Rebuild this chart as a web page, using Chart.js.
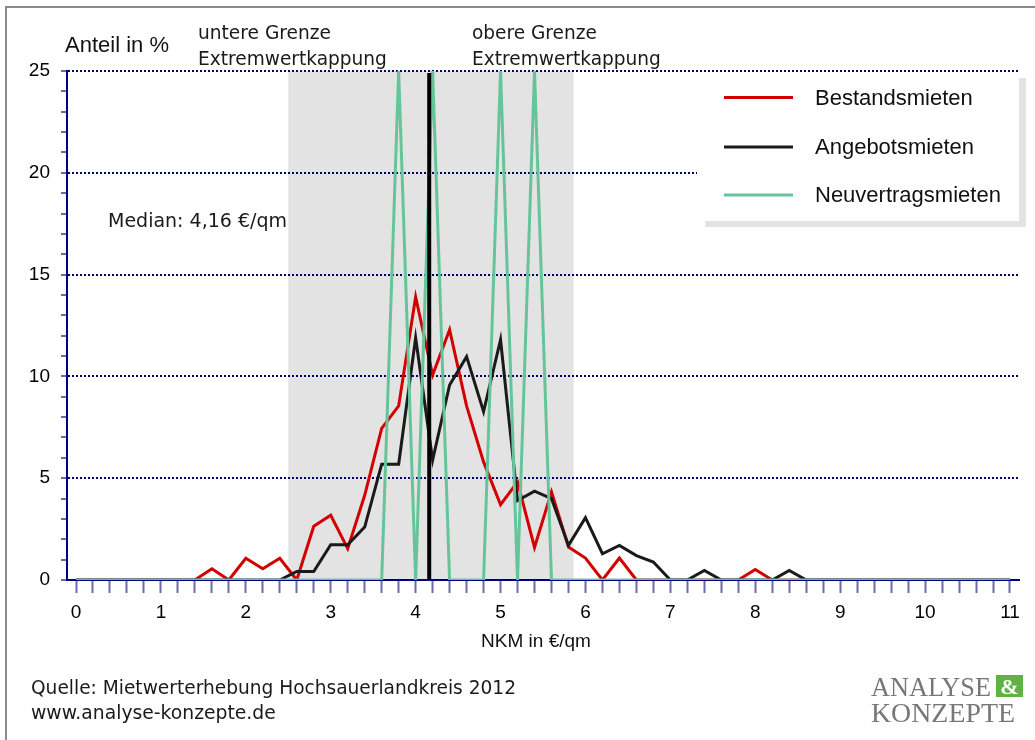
<!DOCTYPE html>
<html><head><meta charset="utf-8">
<script src="https://cdn.jsdelivr.net/npm/chart.js@4/dist/chart.umd.min.js"></script>
<style>html,body{margin:0;padding:0;background:#fff;overflow:hidden}canvas{display:block}</style>
</head><body>
<canvas id="c" width="1035" height="740"></canvas>
<script>
// ---- data ----
const nkm = [0,0.2,0.4,0.6,0.8, 1,1.2,1.4,1.6,1.8, 2,2.2,2.4,2.6,2.8, 3,3.2,3.4,3.6,3.8,
             4,4.2,4.4,4.6,4.8, 5,5.2,5.4,5.6,5.8, 6,6.2,6.4,6.6,6.8, 7,7.2,7.4,7.6,7.8,
             8,8.2,8.4,8.6,8.8, 9,9.2,9.4,9.6,9.8, 10,10.2,10.4,10.6,10.8, 11];
const bestandsmieten = [0,0,0,0,0, 0,0,0,0.55,0, 1.07,0.55,1.07,0,2.64, 3.18,1.54,4.16,7.45,8.55,
                        13.9,10.07,12.29,8.55,5.8, 3.7,4.82,1.6,4.33,1.62, 1.08,0,1.08,0,0, 0,0,0,0,0,
                        0.52,0,0,0,0, 0,0,0,0,0, 0,0,0,0,0, 0];
const angebotsmieten = [0,0,0,0,0, 0,0,0,0,0, 0,0,0,0.42,0.42, 1.73,1.73,2.6,5.69,5.69,
                        11.9,5.89,9.58,10.97,8.27, 11.8,3.9,4.36,4.0,1.7, 3.06,1.29,1.7,1.2,0.88, 0,0,0.47,0,0,
                        0,0,0.47,0,0, 0,0,0,0,0, 0,0,0,0,0, 0];
const neuvertragsmieten = [0,0,0,0,0, 0,0,0,0,0, 0,0,0,0,0, 0,0,0,0,25,
                           0,25,0,0,0, 25,0,25,0,0, 0,0,0,0,0, 0,0,0,0,0,
                           0,0,0,0,0, 0,0,0,0,0, 0,0,0,0,0, 0];
const seriesNames = ['Bestandsmieten','Angebotsmieten','Neuvertragsmieten'];
const seriesColors = ['#d40000','#1a1a1a','#66c49a'];
const yTickValues = [0,1,2,3,4,5,6,7,8,9,10,11,12,13,14,15,16,17,18,19,20,21,22,23,24,25];
const median = 4.16;
const medianTop = 24.9;
const lowerCap = 2.5;
const upperCap = 5.86;

const toPts = arr => arr.map((v,i) => ({x: nkm[i], y: v}));
const SANS = '"Liberation Sans", Arial, sans-serif';
const TAHO = '"DejaVu Sans", Verdana, sans-serif';
const SERIF = '"Liberation Serif", "Times New Roman", serif';

function fitText(ctx, text, x, yBase, family, width, color){
  ctx.font = '100px ' + family;
  const w = ctx.measureText(text).width;
  ctx.font = (100*width/w).toFixed(2) + 'px ' + family;
  ctx.fillStyle = color; ctx.textAlign = 'left'; ctx.textBaseline = 'alphabetic';
  ctx.fillText(text, x, yBase);
}

const deco = {
  id: 'deco',
  beforeDraw(chart){
    const {ctx, chartArea: a, scales: {x}} = chart;
    ctx.save();
    ctx.fillStyle = '#fff'; ctx.fillRect(0,0,chart.width,chart.height);
    ctx.fillStyle = '#8a8a8a'; ctx.fillRect(5,6,2,734); ctx.fillRect(5,6,1030,2);
    const x1 = x.getPixelForValue(lowerCap), x2 = x.getPixelForValue(upperCap);
    ctx.fillStyle = '#e3e3e3'; ctx.fillRect(x1, a.top, x2-x1, a.bottom-a.top);
    ctx.restore();
  },
  afterDraw(chart){
    const {ctx} = chart;
    ctx.save();
    // axis titles
    ctx.font = '22px ' + SANS; ctx.fillStyle = '#111'; ctx.textAlign='left'; ctx.textBaseline='alphabetic';
    ctx.fillText('Anteil in %', 65, 52);
    ctx.font = '19px ' + SANS; ctx.textAlign='center';
    ctx.fillText('NKM in €/qm', 536, 647);
    // annotations
    fitText(ctx, 'untere Grenze', 198, 39, TAHO, 133, '#1a1a1a');
    fitText(ctx, 'Extremwertkappung', 198, 65, TAHO, 189, '#1a1a1a');
    fitText(ctx, 'obere Grenze', 472, 39, TAHO, 125, '#1a1a1a');
    fitText(ctx, 'Extremwertkappung', 472, 65, TAHO, 189, '#1a1a1a');
    fitText(ctx, 'Median: 4,16 €/qm', 108, 227, TAHO, 179, '#1a1a1a');
    fitText(ctx, 'Quelle: Mietwerterhebung Hochsauerlandkreis 2012', 31, 694, TAHO, 485, '#1a1a1a');
    fitText(ctx, 'www.analyse-konzepte.de', 31, 719, TAHO, 245, '#1a1a1a');
    // legend
    ctx.fillStyle = '#e3e3e3'; ctx.fillRect(705, 78, 321, 149);
    ctx.fillStyle = '#fff'; ctx.fillRect(697, 72, 322, 149);
    const ly = [97.5, 147, 195];
    seriesNames.forEach((n,i) => {
      ctx.strokeStyle = seriesColors[i]; ctx.lineWidth = 3;
      ctx.beginPath(); ctx.moveTo(724, ly[i]); ctx.lineTo(793, ly[i]); ctx.stroke();
      ctx.font = '22px ' + SANS; ctx.fillStyle = '#111'; ctx.textAlign='left'; ctx.textBaseline='middle';
      ctx.fillText(n, 815, ly[i]+1);
    });
    // logo
    fitText(ctx, 'ANALYSE', 871, 696, SERIF, 120, '#777');
    fitText(ctx, 'KONZEPTE', 871, 722, SERIF, 144, '#777');
    ctx.fillStyle = '#5fb344'; ctx.fillRect(996, 675, 27, 22);
    ctx.font = 'bold 22px ' + SERIF; ctx.fillStyle = '#fff'; ctx.textAlign='center'; ctx.textBaseline='alphabetic';
    ctx.fillText('&', 1009.5, 694);
    ctx.restore();
  }
};

const lineDs = (label, data, color, order) => ({
  label, data: toPts(data), borderColor: color, backgroundColor: color,
  borderWidth: 3, pointRadius: 0, tension: 0, fill: false, order
});

new Chart(document.getElementById('c'), {
  type: 'line',
  data: {
    datasets: [
      {label: 'Median', data: [{x: median, y: 0}, {x: median, y: medianTop}], borderColor: '#000',
       borderWidth: 4, pointRadius: 0, fill: false, order: 0},
      lineDs(seriesNames[2], neuvertragsmieten, seriesColors[2], 1),
      lineDs(seriesNames[1], angebotsmieten, seriesColors[1], 2),
      lineDs(seriesNames[0], bestandsmieten, seriesColors[0], 3)
    ]
  },
  options: {
    responsive: false, animation: false, devicePixelRatio: 1,
    layout: {padding: {top: 71, right: 16, left: 0, bottom: 0}},
    plugins: {legend: {display: false}, tooltip: {enabled: false}},
    scales: {
      x: {
        type: 'linear', min: -0.106, max: 11.106,
        afterBuildTicks: s => { s.ticks = nkm.map(v => ({value: v})); },
        afterFit: s => { s.height = 160; },
        ticks: {
          autoSkip: false, maxRotation: 0, padding: 8, color: '#000',
          font: {family: SANS, size: 19},
          callback: v => Math.abs(v - Math.round(v)) < 1e-6 ? String(Math.round(v)) : ''
        },
        grid: {drawOnChartArea: false, drawTicks: true, tickLength: 13, tickColor: '#6b6bab', tickWidth: 2},
        border: {color: '#000080', width: 2}
      },
      y: {
        type: 'linear', min: 0, max: 25,
        afterBuildTicks: s => { s.ticks = yTickValues.map(v => ({value: v})); },
        afterFit: s => { s.width = 67; },
        ticks: {
          autoSkip: false, padding: 11, color: '#000',
          font: {family: SANS, size: 19},
          callback: v => v % 5 === 0 ? String(v) : ''
        },
        grid: {
          drawTicks: true, tickLength: 6, tickWidth: 2, tickColor: '#6b6bab', tickBorderDash: [],
          lineWidth: 2,
          color: c => (c.tick && c.tick.value % 5 === 0 && c.tick.value > 0) ? '#000066' : 'rgba(0,0,0,0)'
        },
        border: {color: '#000080', width: 2, dash: [2, 2]}
      }
    }
  },
  plugins: [deco]
});
</script>
</body></html>
